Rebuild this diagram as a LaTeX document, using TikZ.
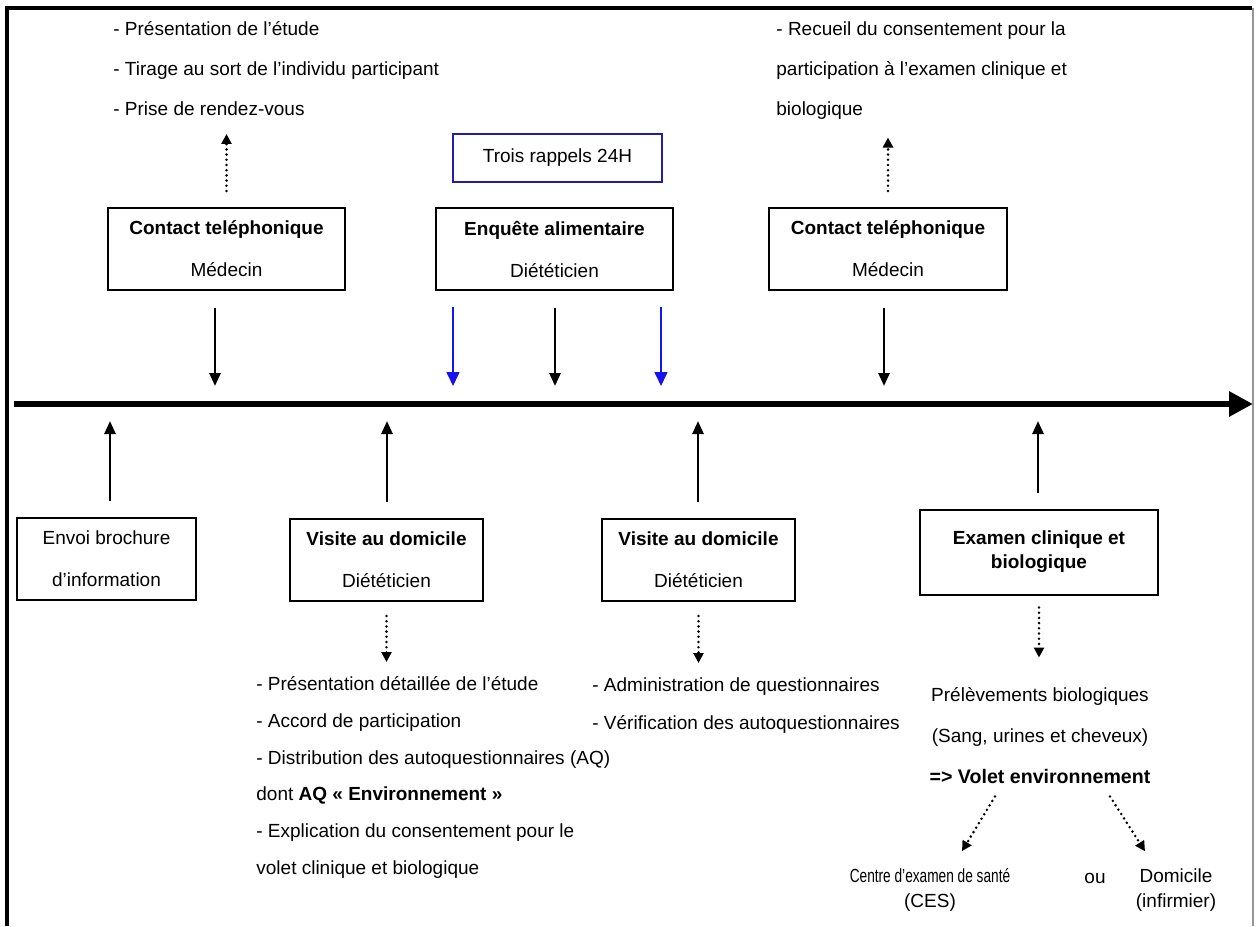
\documentclass[tikz,border=0pt]{standalone}
\usepackage{fontspec}
\setmainfont{Liberation Sans}
\newfontfamily\narrowsans{Liberation Sans}[FakeStretch=0.72]
\usepackage{tikz}
\usetikzlibrary{arrows.meta}
\usetikzlibrary{positioning}

\definecolor{rappelblue}{RGB}{30,30,170}
\definecolor{tickblue}{RGB}{20,20,235}
\definecolor{framegray}{RGB}{150,150,150}

\tikzset{
    stagebox/.style={
        rectangle, draw=black, line width=1pt,
        minimum height=41pt, align=center, inner sep=2pt,
        font=\fontsize{9.5}{21}\selectfont,
    },
    notes/.style={
        rectangle, inner sep=0pt, anchor=north west, align=left,
        font=\fontsize{9.5}{20}\selectfont,
    },
    tick/.style={line width=1.3pt, -{Triangle[length=6.5pt,width=5.5pt]}},
    bluetick/.style={tickblue, line width=0.8pt, -{Triangle[length=7pt,width=6.5pt]}},
    dots/.style={line width=1.4pt, line cap=round, dash pattern=on 0pt off 2.6pt,
        -{Triangle[length=5pt,width=5pt]}},
}

\begin{document}
\begin{tikzpicture}[x=0.5pt, y=-0.5pt]
        \useasboundingbox (0,0) rectangle (1257,926);

        % frame
        \draw[line width=2pt] (7,926) -- (7,8) -- (1252,8);
        \draw[framegray, line width=0.8pt] (1253,8) -- (1253,926);

        % time line
        \coordinate (start) at (14,404);
        \coordinate (stop) at (1253,404);
        \draw[line width=3pt, -{Triangle[length=12pt,width=12pt]}] (start) -- (stop);

        % ends of the ticks on the time line
        \coordinate (d1) at (215,386);
        \coordinate (d2) at (453,386);
        \coordinate (d3) at (555,386);
        \coordinate (d4) at (661,386);
        \coordinate (d5) at (884,386);
        \coordinate (u1) at (110,421);
        \coordinate (u2) at (387,421);
        \coordinate (u3) at (698,421);
        \coordinate (u4) at (1038,421);

        % above the line
        \node (call1) at(226.5,249) [stagebox, minimum width=118.5pt]
            {\textbf{Contact teléphonique}\\Médecin};
        \node (diet) at(554.5,249) [stagebox, minimum width=118.5pt]
            {\textbf{Enquête alimentaire}\\Diététicien};
        \node (call2) at(888,249) [stagebox, minimum width=119pt]
            {\textbf{Contact teléphonique}\\Médecin};
        \node (recall) at(557.5,158) [
            rectangle, draw=rappelblue, line width=0.8pt,
            minimum width=104.5pt, minimum height=24pt,
            font=\fontsize{9.5}{11}\selectfont,
        ] {Trois rappels 24H};

        \node (call1notes) at(113,21) [notes]
            {- Présentation de l’étude\\
             - Tirage au sort de l’individu participant\\
             - Prise de rendez-vous};
        \node (call2notes) at(776,21) [notes]
            {- Recueil du consentement pour la\\
             participation à l’examen clinique et\\
             biologique};

        % below the line
        \node (leaflet) at(106.5,558.5) [stagebox, minimum width=89.5pt]
            {Envoi brochure\\d’information};
        \node (visit1) at(386.5,560) [stagebox, minimum width=96.5pt]
            {\textbf{Visite au domicile}\\Diététicien};
        \node (visit2) at(698.5,560) [stagebox, minimum width=96.5pt]
            {\textbf{Visite au domicile}\\Diététicien};
        \node (exam) at(1039,552) [stagebox, minimum width=119pt, minimum height=42.5pt,
            font=\fontsize{9.5}{12}\selectfont]
            {\textbf{Examen clinique et}\\\textbf{biologique}};

        \node (visit1notes) at(256,676) [notes, font=\fontsize{9.5}{18.4}\selectfont]
            {- Présentation détaillée de l’étude\\
             - Accord de participation\\
             - Distribution des autoquestionnaires (AQ)\\
             dont \textbf{AQ « Environnement »}\\
             - Explication du consentement pour le\\
             volet clinique et biologique};
        \node (visit2notes) at(592,677) [notes, font=\fontsize{9.5}{19}\selectfont]
            {- Administration de questionnaires\\
             - Vérification des autoquestionnaires};
        \node (samples) at(1040,736) [
            rectangle, inner sep=0pt, align=center,
            font=\fontsize{9.5}{20.5}\selectfont,
        ] {Prélèvements biologiques\\
           (Sang, urines et cheveux)\\
           {\fontsize{9.8}{12}\selectfont\textbf{=> Volet environnement}}};
        \node (ces) at(930,890) [
            rectangle, inner sep=0pt, align=center,
            font=\fontsize{9.5}{12.5}\selectfont,
        ] {{\narrowsans Centre d’examen de santé}\\(CES)};
        \node (or) at(1095,878) [font=\fontsize{9.5}{11}\selectfont] {ou};
        \node (home) at(1176,890) [
            rectangle, inner sep=0pt, align=center,
            font=\fontsize{9.5}{12.5}\selectfont,
        ] {Domicile\\(infirmier)};

        % ticks
        \draw[tick, shorten <=8.5pt] (call1.south -| d1) -- (d1);
        \draw[tick, shorten <=8.5pt] (diet.south -| d3) -- (d3);
        \draw[tick, shorten <=8.5pt] (call2.south -| d5) -- (d5);
        \draw[bluetick, shorten <=8pt] (diet.south -| d2) -- (d2);
        \draw[bluetick, shorten <=8pt] (diet.south -| d4) -- (d4);
        \draw[tick, shorten <=8pt] (leaflet.north -| u1) -- (u1);
        \draw[tick, shorten <=8pt] (visit1.north -| u2) -- (u2);
        \draw[tick, shorten <=8pt] (visit2.north -| u3) -- (u3);
        \draw[tick, shorten <=8pt] (exam.north -| u4) -- (u4);

        % dotted links
        \draw[dots, shorten <=8pt, shorten >=9pt] (call1.north) -- (call1.north |- call1notes.south);
        \draw[dots, shorten <=8pt, shorten >=9pt] (call2.north) -- (call2.north |- call2notes.south);
        \draw[dots, shorten <=7pt, shorten >=7pt] (visit1.south) -- (visit1.south |- visit1notes.north);
        \draw[dots, shorten <=7pt, shorten >=7pt] (visit2.south) -- (visit2.south |- visit2notes.north);
        \draw[dots, shorten <=6pt, shorten >=15pt] (exam.south) -- (exam.south |- samples.north);
        \draw[dots] ([shift={(-45,12)}]samples.south) -- ([shift={(32,-17)}]ces.north);
        \draw[dots] ([shift={(70,12)}]samples.south) -- ([shift={(-31,-17)}]home.north);
    \end{tikzpicture}
\end{document}
